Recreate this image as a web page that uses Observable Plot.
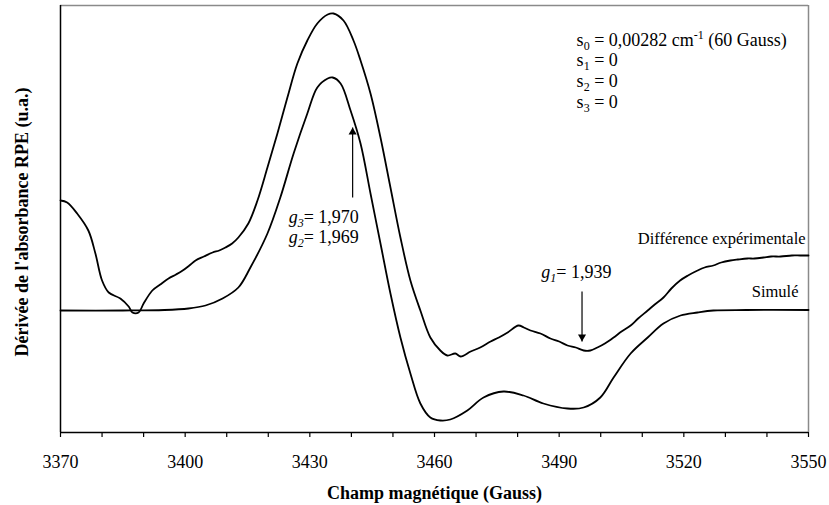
<!DOCTYPE html>
<html>
<head>
<meta charset="utf-8">
<script src="https://cdn.jsdelivr.net/npm/d3@7"></script>
<script src="https://cdn.jsdelivr.net/npm/@observablehq/plot@0.6"></script>
<style>
  html, body { margin: 0; padding: 0; background: #fff; }
  #chart svg { display: block; }
</style>
</head>
<body>
<div id="chart"></div>
<script>
// ---- Data ----
// Champ magnétique (Gauss) / dérivée (u.a.) — différence expérimentale
const expField = [3370, 3371.6, 3374.0, 3376.7, 3378.4, 3380.0, 3381.6, 3384.4, 3386.4, 3387.3, 3388.8, 3390.0, 3392.1, 3394.0, 3396.0, 3397.8, 3399.4, 3401.0, 3402.5, 3404.5, 3406.6, 3408.2, 3409.7, 3411.3, 3412.8, 3415.2, 3417.4, 3419.8, 3422.2, 3424.6, 3427.0, 3429.4, 3431.8, 3434.3, 3435.7, 3438.1, 3440.5, 3442.2, 3444.6, 3447.0, 3449.4, 3451.8, 3454.2, 3456.6, 3459.0, 3461.4, 3463.1, 3465.0, 3466.3, 3468.7, 3471.0, 3473.5, 3475.5, 3477.6, 3480.2, 3481.5, 3483.1, 3485.5, 3487.9, 3490.0, 3492.0, 3494.0, 3495.9, 3497.5, 3499.2, 3501.0, 3503.1, 3505.0, 3507.2, 3509.0, 3511.3, 3513.0, 3515.1, 3517.0, 3519.1, 3521.0, 3523.3, 3525.0, 3527.1, 3529.0, 3531.2, 3533.0, 3535.3, 3537.0, 3539.2, 3541.0, 3543.3, 3546.0, 3548.0, 3550];
const expValue = [110, 108, 97, 80, 57, 30, 18, 12, 4, -2, -2, 7, 20, 26, 32, 36, 40, 45, 50, 54, 58, 60, 63, 67, 73, 87, 110, 143, 177, 213, 247, 270, 287, 296, 297, 290, 270, 250, 217, 173, 123, 73, 30, 0, -27, -40, -45, -43, -46, -41, -37, -31, -27, -22, -15, -17, -20, -23, -28, -31, -35, -37, -40, -40, -37, -33, -27, -21, -15, -8, 0, 6, 13, 22, 30, 35, 40, 43, 45, 48, 50, 51, 52, 52, 53, 54, 54, 55, 55, 55];

// Spectre simulé
const simField = [3370, 3385, 3395, 3400.8, 3404.9, 3409.0, 3412.8, 3415.7, 3419.8, 3422.9, 3426.1, 3429.4, 3431.8, 3434.3, 3435.5, 3437.4, 3439.8, 3442.2, 3444.6, 3447.0, 3449.4, 3451.8, 3454.2, 3456.6, 3459.0, 3461.4, 3463.8, 3467.9, 3471.8, 3476.6, 3481.4, 3486.2, 3492.0, 3495.9, 3499.9, 3503.1, 3507.2, 3511.3, 3515.1, 3519.2, 3523.3, 3527.1, 3535, 3550];
const simValue = [0, 0, 0.5, 2, 5, 12, 23, 43, 77, 113, 157, 197, 223, 232, 233, 227, 200, 167, 117, 67, 17, -27, -63, -93, -107, -110, -109, -100, -87, -81, -85, -93, -98, -97, -87, -67, -43, -27, -13, -5, -2, 0, 0.5, 0.5];

// Axis
const xDomain = [3370, 3550];
const yDomain = [-122, 305];
const majorTicks = [3370, 3400, 3430, 3460, 3490, 3520, 3550];
const minorTicks = [3370, 3380, 3390, 3400, 3410, 3420, 3430, 3440, 3450, 3460, 3470, 3480, 3490, 3500, 3510, 3520, 3530, 3540, 3550];
const xLabel = "Champ magnétique (Gauss)";
const yLabel = "Dérivée de l'absorbance RPE (u.a.)";

// Parameters text block (markup: _{} subscript, ^{} superscript)
const paramLines = ["s_{0} = 0,00282 cm^{-1} (60 Gauss)", "s_{1} = 0", "s_{2} = 0", "s_{3} = 0"];
const paramField = [3494.2, 3494.2, 3494.2, 3494.2];
const paramValue = [265, 244.5, 223.5, 202.5];

// g-value annotations (markup: *x* italic, _*{} italic subscript)
const gLabels = ["*g*_*{3}= 1,970", "*g*_*{2}= 1,969", "*g*_*{1}= 1,939"];
const gField = [3424.9, 3424.9, 3485.7];
const gValue = [88, 68, 33];

// Arrows (field, tail value, tip value)
const arrowField = [3440.3, 3495.5];
const arrowTail = [113, 19];
const arrowTip = [183, -31];

// Curve names
const curveNames = ["Différence expérimentale", "Simulé"];
const curveNameField = [3549.3, 3547.6];
const curveNameValue = [67, 14];

// ---- Build tables ----
const expData = expField.map((x, i) => ({x, y: expValue[i]}));
const simData = simField.map((x, i) => ({x, y: simValue[i]}));
const params = paramLines.map((t, i) => ({t, x: paramField[i], y: paramValue[i]}));
const gAnn = gLabels.map((t, i) => ({t, x: gField[i], y: gValue[i]}));
const arrows = arrowField.map((x, i) => ({x, y1: arrowTail[i], y2: arrowTip[i], up: arrowTip[i] > arrowTail[i]}));
const names = curveNames.map((t, i) => ({t, x: curveNameField[i], y: curveNameValue[i]}));

const serif = "'Liberation Serif', 'Times New Roman', Times, serif";

const chart = Plot.plot({
  width: 829,
  height: 505,
  marginLeft: 60,
  marginRight: 21,
  marginTop: 5,
  marginBottom: 73,
  style: {fontFamily: serif, fontSize: "18px", color: "#000", background: "#fff"},
  x: {domain: xDomain, axis: null},
  y: {domain: yDomain, axis: null},
  marks: [
    // frame
    Plot.ruleY([yDomain[1]], {stroke: "#8a8a8a", strokeWidth: 1.5}),
    Plot.ruleX([xDomain[1]], {stroke: "#8a8a8a", strokeWidth: 1.5}),
    Plot.ruleX([xDomain[0]], {stroke: "#000", strokeWidth: 1.5}),
    Plot.ruleY([yDomain[0]], {stroke: "#000", strokeWidth: 1.5}),
    // ticks
    Plot.axisX({ticks: minorTicks, tickSize: 5, tickFormat: () => "", strokeWidth: 1.2, label: null}),
    Plot.axisX({ticks: majorTicks, tickSize: 0, tickPadding: 23, tickFormat: d => String(d),
      fontSize: 18, fontFamily: serif, label: null}),
    // curves
    Plot.line(expData, {x: "x", y: "y", stroke: "#000", strokeWidth: 1.8, curve: "catmull-rom"}),
    Plot.line(simData, {x: "x", y: "y", stroke: "#000", strokeWidth: 1.8, curve: "catmull-rom"}),
    // arrows
    Plot.link(arrows, {x1: "x", x2: "x", y1: "y1", y2: "y2", stroke: "#000", strokeWidth: 1.2}),
    Plot.dot(arrows, {x: "x", y: "y2", symbol: "triangle", r: 3, fill: "#000", stroke: null,
      rotate: d => d.up ? 0 : 180}),
    // texts
    Plot.text(params, {x: "x", y: "y", text: "t", textAnchor: "start", lineAnchor: "bottom", fontSize: 18, fontFamily: serif}),
    Plot.text(gAnn, {x: "x", y: "y", text: "t", textAnchor: "start", lineAnchor: "bottom", fontSize: 18, fontFamily: serif}),
    Plot.text(names, {x: "x", y: "y", text: "t", textAnchor: "end", lineAnchor: "bottom", fontSize: 16.5, fontFamily: serif}),
    // axis labels
    Plot.text([xLabel], {text: d => d, frameAnchor: "bottom", dy: 66, lineAnchor: "bottom", textAnchor: "middle",
      fontWeight: "bold", fontSize: 18, fontFamily: serif}),
    Plot.text([yLabel], {text: d => d, frameAnchor: "left", dx: -33, dy: 3, rotate: -90, lineAnchor: "bottom",
      textAnchor: "middle", fontWeight: "bold", fontSize: 18, fontFamily: serif})
  ]
});

// Rich text: subscripts, superscripts, italics
const re = /(\*[^*]+\*|_\*?\{[^}]*\}|\^\{[^}]*\})/g;
d3.select(chart).selectAll("text").each(function() {
  const t = this.textContent;
  if (!/[_^]\{|_\*\{|\*[^*]+\*/.test(t)) return;
  const parts = t.split(re).filter(s => s !== "" && s !== undefined);
  this.textContent = "";
  let shift = 0;
  for (const p of parts) {
    const ts = d3.select(this).append("tspan");
    let dy = 0, txt = p;
    if (p.startsWith("*")) {
      txt = p.slice(1, -1); ts.attr("font-style", "italic");
    } else if (p.startsWith("_*{")) {
      txt = p.slice(3, -1); ts.attr("font-style", "italic").attr("font-size", "12px"); dy = 4;
    } else if (p.startsWith("_{")) {
      txt = p.slice(2, -1); ts.attr("font-size", "12px"); dy = 4;
    } else if (p.startsWith("^{")) {
      txt = p.slice(2, -1); ts.attr("font-size", "12px"); dy = -7;
    }
    if (dy - shift !== 0) ts.attr("dy", dy - shift);
    ts.text(txt);
    shift = dy;
  }
});

// Arrowhead offset: put the triangle's tip exactly on the arrow end
d3.select(chart).selectAll("g[aria-label='dot'] path").each(function() {
  const tr = this.getAttribute("transform") || "";
  this.setAttribute("transform", tr + " translate(0,4.7)");
});

document.getElementById("chart").appendChild(chart);
</script>
</body>
</html>
